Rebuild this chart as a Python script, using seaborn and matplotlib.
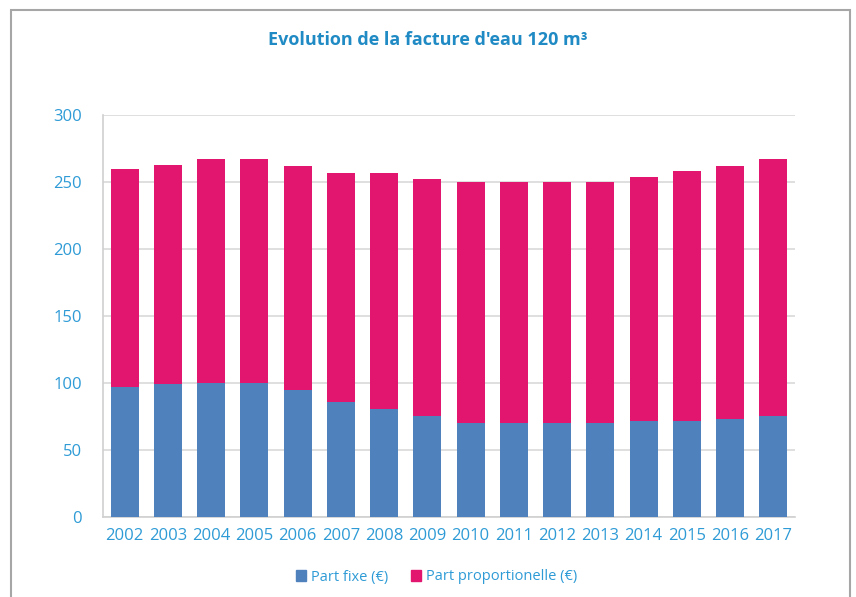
import matplotlib
matplotlib.use("Agg")
import matplotlib.pyplot as plt
import seaborn as sns
import pandas as pd
import numpy as np
from matplotlib.patches import Rectangle

years = ["2002", "2003", "2004", "2005", "2006", "2007", "2008", "2009",
         "2010", "2011", "2012", "2013", "2014", "2015", "2016", "2017"]
part_fixe = [97, 99, 100, 100, 95, 85.5, 80.5, 75.5,
             70.5, 70.5, 70.5, 70.5, 71.5, 72, 73.5, 75.5]
part_prop = [162.5, 164, 167, 167, 167, 171.5, 176.5, 176.5,
             179.5, 179.5, 179.5, 179.5, 182, 186, 188.5, 192]
yticks = [0, 50, 100, 150, 200, 250, 300]

BLUE = "#4f81bd"
PINK = "#e2156f"
TXT = "#2e9bd6"
TITLE = "#1f8ac4"

sns.set_theme(style="white")
plt.rcParams["font.family"] = ["Open Sans", "DejaVu Sans"]

df = pd.DataFrame({"year": years, "fixe": part_fixe, "prop": part_prop})
df["total"] = df["fixe"] + df["prop"]

fig = plt.figure(figsize=(8.56, 5.97), dpi=100)
ax = fig.add_axes([103/856, 80/597, 692/856, 402/597])

sns.barplot(data=df, x="year", y="total", color=PINK, width=0.65,
            saturation=1, ax=ax, zorder=3, linewidth=0)
sns.barplot(data=df, x="year", y="fixe", color=BLUE, width=0.65,
            saturation=1, ax=ax, zorder=4, linewidth=0)

ax.set_xlim(-0.5, len(years) - 0.5)
ax.set_ylim(0, 300)
ax.set_yticks(yticks)
ax.set_yticklabels([str(v) for v in yticks])
ax.set_xlabel("")
ax.set_ylabel("")
ax.yaxis.grid(True, color="#d9d9d9", linewidth=1.2, zorder=0)
ax.set_axisbelow(True)
for s in ["top", "right"]:
    ax.spines[s].set_visible(False)
ax.spines["left"].set_color("#d0d0d0")
ax.spines["left"].set_linewidth(1.2)
ax.spines["bottom"].set_color("#d0d0d0")
ax.spines["bottom"].set_linewidth(1.2)
ax.tick_params(axis="both", length=0, labelsize=12, labelcolor=TXT)
ax.tick_params(axis="y", pad=15)
ax.tick_params(axis="x", pad=8)

fig.text(0.5, 1 - 40/597, "Evolution de la facture d'eau 120 m³",
         ha="center", va="center", fontsize=13, fontweight="bold", color=TITLE)

handles = [Rectangle((0, 0), 1, 1, color=BLUE), Rectangle((0, 0), 1, 1, color=PINK)]
fig.legend(handles, ["Part fixe (€)", "Part proportionelle (€)"],
           loc="center", bbox_to_anchor=(0.51, 1 - 577/597), ncol=2,
           frameon=False, fontsize=10.5, labelcolor=TXT, handlelength=0.7,
           handleheight=0.7, handletextpad=0.3, columnspacing=1.6)

border = Rectangle((11/856, -0.1), (850 - 11)/856, 1.1 - 10/597,
                   transform=fig.transFigure, fill=False, edgecolor="#a6a6a6",
                   linewidth=1.5)
fig.patches.append(border)

fig.savefig("out.png", dpi=100)
